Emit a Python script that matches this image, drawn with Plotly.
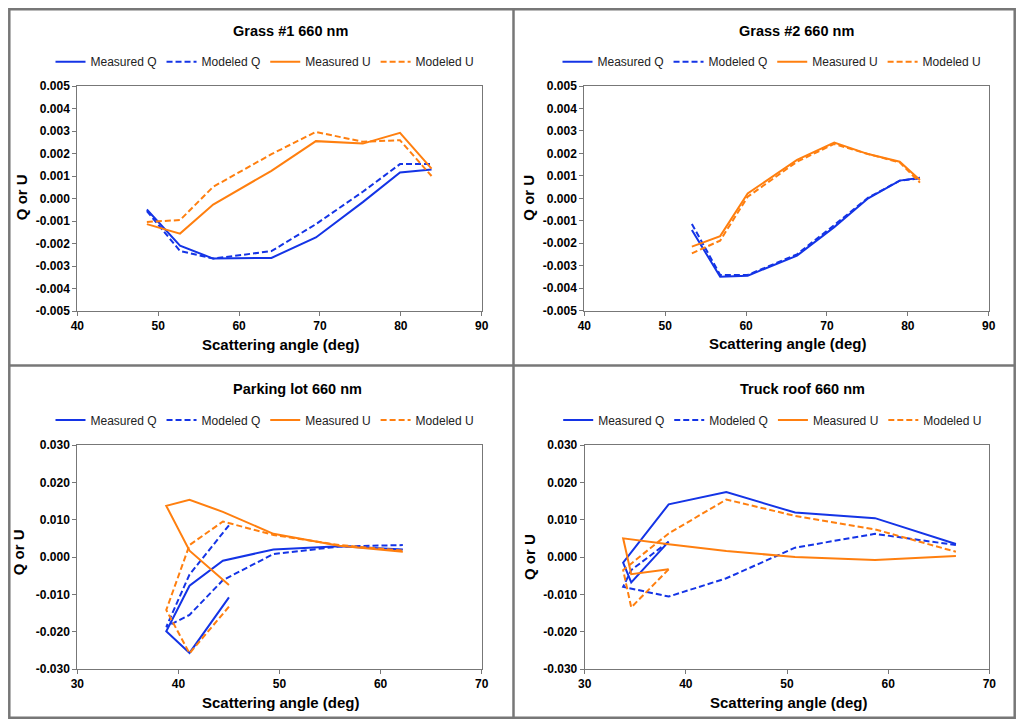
import plotly.graph_objects as go

# ---------------- data ----------------
angle_grass1 = [48.6, 52.7, 56.8, 64.0, 69.5, 75.3, 79.9, 83.8]
measQ_grass1 = [-0.00049, -0.0021, -0.00267, -0.00264, -0.00173, -0.00016, 0.00116, 0.00129]
modQ_grass1 = [-0.00056, -0.00233, -0.00267, -0.00234, -0.00114, 0.0003, 0.00153, 0.00153]
measU_grass1 = [-0.00114, -0.00156, -0.00027, 0.00123, 0.00255, 0.00244, 0.00292, 0.00133]
modU_grass1 = [-0.00104, -0.00096, 0.00052, 0.00197, 0.00296, 0.00252, 0.00259, 0.00100]

angle_grass2 = [53.3, 56.8, 60.2, 66.3, 70.9, 75.1, 79.0, 81.5]
measQ_grass2 = [-0.00141, -0.00349, -0.00344, -0.00255, -0.00128, 0.0, 0.00079, 0.00092]
modQ_grass2 = [-0.00114, -0.00341, -0.00341, -0.00249, -0.00119, 0.00003, 0.00079, 0.00089]
measU_grass2 = [-0.00215, -0.00168, 0.00022, 0.00171, 0.00248, 0.00197, 0.00163, 0.00082]
modU_grass2 = [-0.00245, -0.00188, 0.00007, 0.00163, 0.00242, 0.00197, 0.00160, 0.00070]

angle_parking = [45.0, 41.1, 38.8, 41.1, 44.4, 49.4, 55.9, 62.2]
measQ_parking = [-0.0108, -0.0257, -0.0199, -0.0077, -0.0010, 0.0020, 0.0029, 0.0020]
modQ_parking = [0.0085, -0.0047, -0.0187, -0.0155, -0.0062, 0.0008, 0.0028, 0.0032]
measU_parking = [-0.0075, 0.0017, 0.0137, 0.0153, 0.0121, 0.0062, 0.0030, 0.0014]
modU_parking = [-0.0133, -0.0258, -0.0142, 0.0032, 0.0095, 0.0059, 0.0032, 0.0017]

angle_truck = [38.3, 34.6, 33.8, 38.3, 44.0, 50.8, 58.7, 66.7]
measQ_truck = [0.0041, -0.0068, -0.0015, 0.0141, 0.0174, 0.0119, 0.0104, 0.0035]
modQ_truck = [0.0041, -0.0035, -0.0080, -0.0106, -0.0057, 0.0025, 0.0062, 0.0032]
measU_truck = [-0.0033, -0.0046, 0.0050, 0.0034, 0.0016, 0.0000, -0.0008, 0.0003]
modU_truck = [-0.0033, -0.0135, -0.0035, 0.0063, 0.0154, 0.0110, 0.0074, 0.0014]

titles = ["Grass #1 660 nm", "Grass #2 660 nm", "Parking lot 660 nm", "Truck roof 660 nm"]
series_names = ["Measured Q", "Modeled Q", "Measured U", "Modeled U"]

xticks_top = [40, 50, 60, 70, 80, 90]
xticks_bottom = [30, 40, 50, 60, 70]
yticks_top = [-0.005, -0.004, -0.003, -0.002, -0.001, 0.0, 0.001, 0.002, 0.003, 0.004, 0.005]
yticktext_top = ["-0.005", "-0.004", "-0.003", "-0.002", "-0.001", "0.000",
                 "0.001", "0.002", "0.003", "0.004", "0.005"]
yticks_bottom = [-0.030, -0.020, -0.010, 0.0, 0.010, 0.020, 0.030]
yticktext_bottom = ["-0.030", "-0.020", "-0.010", "0.000", "0.010", "0.020", "0.030"]

x_title = "Scattering angle (deg)"
y_title = "Q or U"

# ---------------- styling ----------------
PAGE_W, PAGE_H = 1024, 727
OFF = 8  # default page body margin
W, H = PAGE_W - 2 * OFF, PAGE_H - 2 * OFF
FONT = "Liberation Sans, Arial, Helvetica, sans-serif"
BLUE = "#1434E6"
ORANGE = "#FF7F0F"
AXIS_GRAY = "#777777"
DASH = "6px,3px"


def px(x):
    return (x - OFF) / W


def py(y):
    return 1 - (y - OFF) / H


panels = [
    dict(angles=angle_grass1, ys=[measQ_grass1, modQ_grass1, measU_grass1, modU_grass1],
         xr=[40, 90], xt=xticks_top, yr=[-0.005, 0.005], yt=yticks_top, ytt=yticktext_top,
         dom_x=(77.3, 481.7), dom_y=(86, 311), title_pos=(290, 31), leg=(50.5, 61.7),
         ytitle=(21.7, 197.5), xtitle=(281.2, 344.3)),
    dict(angles=angle_grass2, ys=[measQ_grass2, modQ_grass2, measU_grass2, modU_grass2],
         xr=[40, 90], xt=xticks_top, yr=[-0.005, 0.005], yt=yticks_top, ytt=yticktext_top,
         dom_x=(584.3, 988.7), dom_y=(86, 310.7), title_pos=(796.7, 31), leg=(557.5, 61.7),
         ytitle=(528.7, 198), xtitle=(788.2, 343.3)),
    dict(angles=angle_parking, ys=[measQ_parking, modQ_parking, measU_parking, modU_parking],
         xr=[30, 70], xt=xticks_bottom, yr=[-0.030, 0.030], yt=yticks_bottom, ytt=yticktext_bottom,
         dom_x=(77.3, 481.7), dom_y=(445, 669), title_pos=(297, 389.3), leg=(50.5, 420),
         ytitle=(18.8, 552.5), xtitle=(281.2, 702.7)),
    dict(angles=angle_truck, ys=[measQ_truck, modQ_truck, measU_truck, modU_truck],
         xr=[30, 70], xt=xticks_bottom, yr=[-0.030, 0.030], yt=yticks_bottom, ytt=yticktext_bottom,
         dom_x=(584.7, 989.3), dom_y=(445, 669), title_pos=(802.5, 389.3), leg=(558.2, 420),
         ytitle=(529.3, 556.7), xtitle=(788.7, 702.7)),
]

styles = [(BLUE, "solid"), (BLUE, DASH), (ORANGE, "solid"), (ORANGE, DASH)]

fig = go.Figure()
layout = dict(
    width=W, height=H,
    margin=dict(l=0, r=0, t=0, b=0, pad=0, autoexpand=False),
    paper_bgcolor="white", plot_bgcolor="white",
    font=dict(family=FONT, color="black"),
    showlegend=True,
)
annotations = []

for i, p in enumerate(panels):
    n = i + 1
    sfx = "" if n == 1 else str(n)
    leg_name = "legend" if n == 1 else f"legend{n}"
    for s, (name, ys) in enumerate(zip(series_names, p["ys"])):
        color, dash = styles[s]
        fig.add_trace(go.Scatter(
            x=p["angles"], y=ys, mode="lines", name=name,
            line=dict(color=color, width=2, dash=dash),
            xaxis="x" + sfx, yaxis="y" + sfx, legend=leg_name,
        ))
    common = dict(showline=True, mirror=True, linecolor=AXIS_GRAY, linewidth=1,
                  ticks="outside", ticklen=4, tickcolor=AXIS_GRAY, tickwidth=1,
                  showgrid=False, zeroline=False, automargin=False,
                  tickfont=dict(family=FONT, size=12, color="black", weight="bold"))
    layout["xaxis" + sfx] = dict(
        domain=[px(p["dom_x"][0]), px(p["dom_x"][1])], range=p["xr"],
        tickvals=p["xt"], ticktext=[str(v) for v in p["xt"]],
        anchor="y" + sfx, **common)
    layout["yaxis" + sfx] = dict(
        domain=[py(p["dom_y"][1]), py(p["dom_y"][0])], range=p["yr"],
        tickvals=p["yt"], ticktext=p["ytt"], anchor="x" + sfx, **common)
    layout[leg_name] = dict(
        orientation="h", x=px(p["leg"][0]), y=py(p["leg"][1]),
        xanchor="left", yanchor="middle", bgcolor="rgba(0,0,0,0)",
        font=dict(family=FONT, size=12, color="#222222"),
        itemwidth=30, traceorder="normal",
    )
    annotations.append(dict(
        text=titles[i], x=px(p["title_pos"][0]), y=py(p["title_pos"][1]),
        xref="paper", yref="paper", showarrow=False, xanchor="center", yanchor="middle",
        font=dict(family=FONT, size=14.5, color="black", weight="bold")))
    annotations.append(dict(
        text=y_title, x=px(p["ytitle"][0]), y=py(p["ytitle"][1]),
        xref="paper", yref="paper", showarrow=False, xanchor="center", yanchor="middle",
        textangle=-90,
        font=dict(family=FONT, size=15, color="black", weight="bold")))
    annotations.append(dict(
        text=x_title, x=px(p["xtitle"][0]), y=py(p["xtitle"][1]),
        xref="paper", yref="paper", showarrow=False, xanchor="center", yanchor="middle",
        font=dict(family=FONT, size=15, color="black", weight="bold")))

layout["annotations"] = annotations
layout["shapes"] = [
    dict(type="rect", xref="paper", yref="paper", x0=px(9.3), x1=px(1014.7), y0=py(717.7), y1=py(9.3),
         line=dict(color=AXIS_GRAY, width=2.5), layer="below"),
    dict(type="line", xref="paper", yref="paper", x0=px(513.5), x1=px(513.5), y0=py(717.7), y1=py(9.3),
         line=dict(color=AXIS_GRAY, width=2.5), layer="below"),
    dict(type="line", xref="paper", yref="paper", x0=px(9.3), x1=px(1014.7), y0=py(365.5), y1=py(365.5),
         line=dict(color=AXIS_GRAY, width=2.5), layer="below"),
]

fig.update_layout(**layout)
fig.write_html("out.html", config={"displayModeBar": False})
